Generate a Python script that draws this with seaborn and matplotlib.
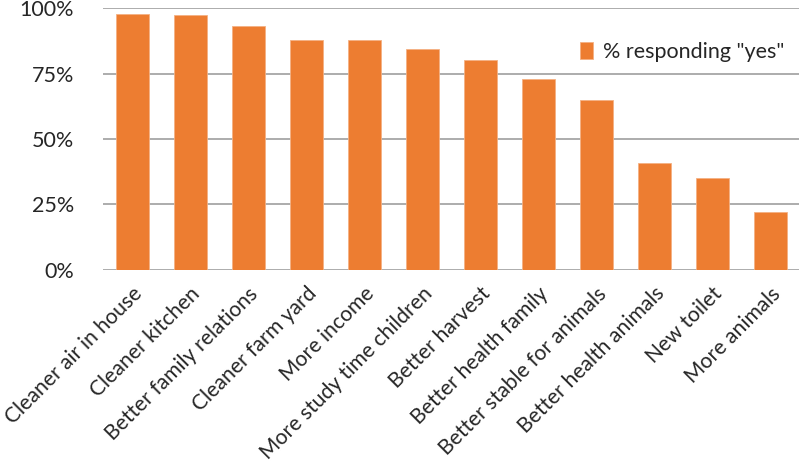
import matplotlib
matplotlib.use("Agg")
import matplotlib.pyplot as plt
import seaborn as sns
import pandas as pd
from matplotlib.ticker import PercentFormatter
from matplotlib.patches import Patch

categories = ["Cleaner air in house", "Cleaner kitchen", "Better family relations",
              "Cleaner farm yard", "More income", "More study time children",
              "Better harvest", "Better health family", "Better stable for animals",
              "Better health animals", "New toilet", "More animals"]
values = [97.9, 97.3, 93.1, 88.1, 88.1, 84.5, 80.2, 73.0, 65.1, 40.9, 35.2, 22.2]
yticks = [0, 25, 50, 75, 100]
series_name = '% responding "yes"'

sns.set_theme(style="white")
plt.rcParams['font.family'] = ['Lato', 'DejaVu Sans']

df = pd.DataFrame({"category": categories, "value": values})

fig = plt.figure(figsize=(8, 4.68), dpi=100)
ax = fig.add_axes([0.129, 0.424, 0.870, 0.558])

orange = "#ED7D31"
sns.barplot(data=df, x="category", y="value", color=orange, width=0.57,
            saturation=1, edgecolor="#F4B183", linewidth=0.6, ax=ax, zorder=3)

ax.set_ylim(0, 100)
ax.set_xlim(-0.5, len(categories) - 0.5)
ax.set_yticks(yticks)
ax.yaxis.set_major_formatter(PercentFormatter(decimals=0))
ax.grid(axis="y", color="#A6A6A6", linewidth=1.3, zorder=0)
ax.set_axisbelow(True)
for s in ["top", "right", "left", "bottom"]:
    ax.spines[s].set_visible(False)
ax.set_xlabel("")
ax.set_ylabel("")
ax.tick_params(axis="y", length=0, pad=21, labelsize=15.5, labelcolor="#262626")
ax.tick_params(axis="x", length=0, pad=10, labelsize=15.2, labelcolor="#262626")
plt.setp(ax.get_xticklabels(), rotation=45, ha="right", rotation_mode="anchor")

handle = Patch(facecolor=orange, edgecolor="#F4B183", linewidth=0.6)
leg = ax.legend([handle], [series_name], loc="upper right", bbox_to_anchor=(1.0, 0.93),
                frameon=False, fontsize=15.5, handlelength=0.6, handleheight=0.8,
                handletextpad=0.45, borderaxespad=0.3)
for t in leg.get_texts():
    t.set_color("#262626")

fig.savefig("out.png", dpi=100)
